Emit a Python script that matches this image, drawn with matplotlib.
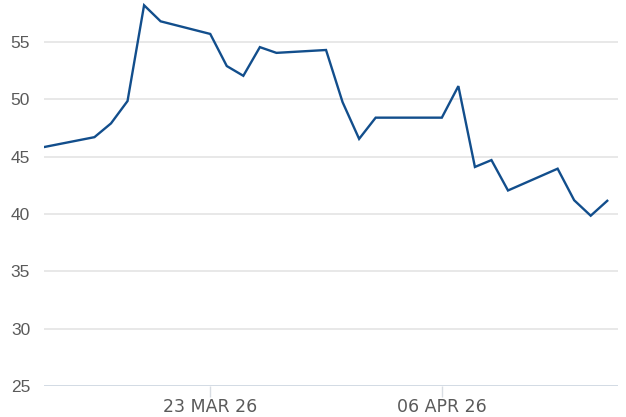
import matplotlib
matplotlib.use("Agg")
import matplotlib.pyplot as plt
import matplotlib.dates as mdates
from datetime import datetime

# 데이터
dates = ["2026-03-13", "2026-03-16", "2026-03-17", "2026-03-18", "2026-03-19",
         "2026-03-20", "2026-03-23", "2026-03-24", "2026-03-25", "2026-03-26",
         "2026-03-27", "2026-03-30", "2026-03-31", "2026-04-01", "2026-04-02",
         "2026-04-06", "2026-04-07", "2026-04-08", "2026-04-09", "2026-04-10",
         "2026-04-13", "2026-04-14", "2026-04-15", "2026-04-16"]
values = [45.85, 46.7, 47.9, 49.85, 58.2,
          56.8, 55.7, 52.9, 52.05, 54.55,
          54.05, 54.3, 49.75, 46.55, 48.4,
          48.4, 51.15, 44.1, 44.7, 42.05,
          43.95, 41.2, 39.85, 41.15]
y_ticks = [25, 30, 35, 40, 45, 50, 55]
x_tick_dates = ["2026-03-23", "2026-04-06"]
x_tick_labels = ["23 MAR 26", "06 APR 26"]

x = [datetime.strptime(d, "%Y-%m-%d") for d in dates]
xt = [datetime.strptime(d, "%Y-%m-%d") for d in x_tick_dates]

fig = plt.figure(figsize=(6.26, 4.17), dpi=100)
ax = fig.add_axes([44 / 626, 1 - 386 / 417, (618 - 44) / 626, 386 / 417])

ax.plot(x, values, color="#124e8c", linewidth=1.7, solid_joinstyle="miter", zorder=3)

ax.set_ylim(25, 58.66)
ax.set_xlim(mdates.date2num(x[0]) - 0.05, mdates.date2num(x[-1]) + 0.65)

# 가로 눈금선
for t in y_ticks:
    col = "#cfd8e2" if t == 25 else "#e6e6e6"
    ax.axhline(t, color=col, linewidth=1.3, zorder=1)

for s in ax.spines.values():
    s.set_visible(False)

ax.set_yticks(y_ticks)
ax.set_yticklabels([str(t) for t in y_ticks], family=["Liberation Sans", "DejaVu Sans"],
                   fontsize=12.5, color="#5a5a5a")
ax.tick_params(axis="y", length=0, pad=10)

ax.set_xticks(mdates.date2num(xt))
ax.set_xticklabels(x_tick_labels, family=["Liberation Sans Narrow", "DejaVu Sans"],
                   fontsize=12.5, color="#5a5a5a")
ax.tick_params(axis="x", length=8, width=1, color="#d8dde3", pad=1)

fig.savefig("out.png", dpi=100)
